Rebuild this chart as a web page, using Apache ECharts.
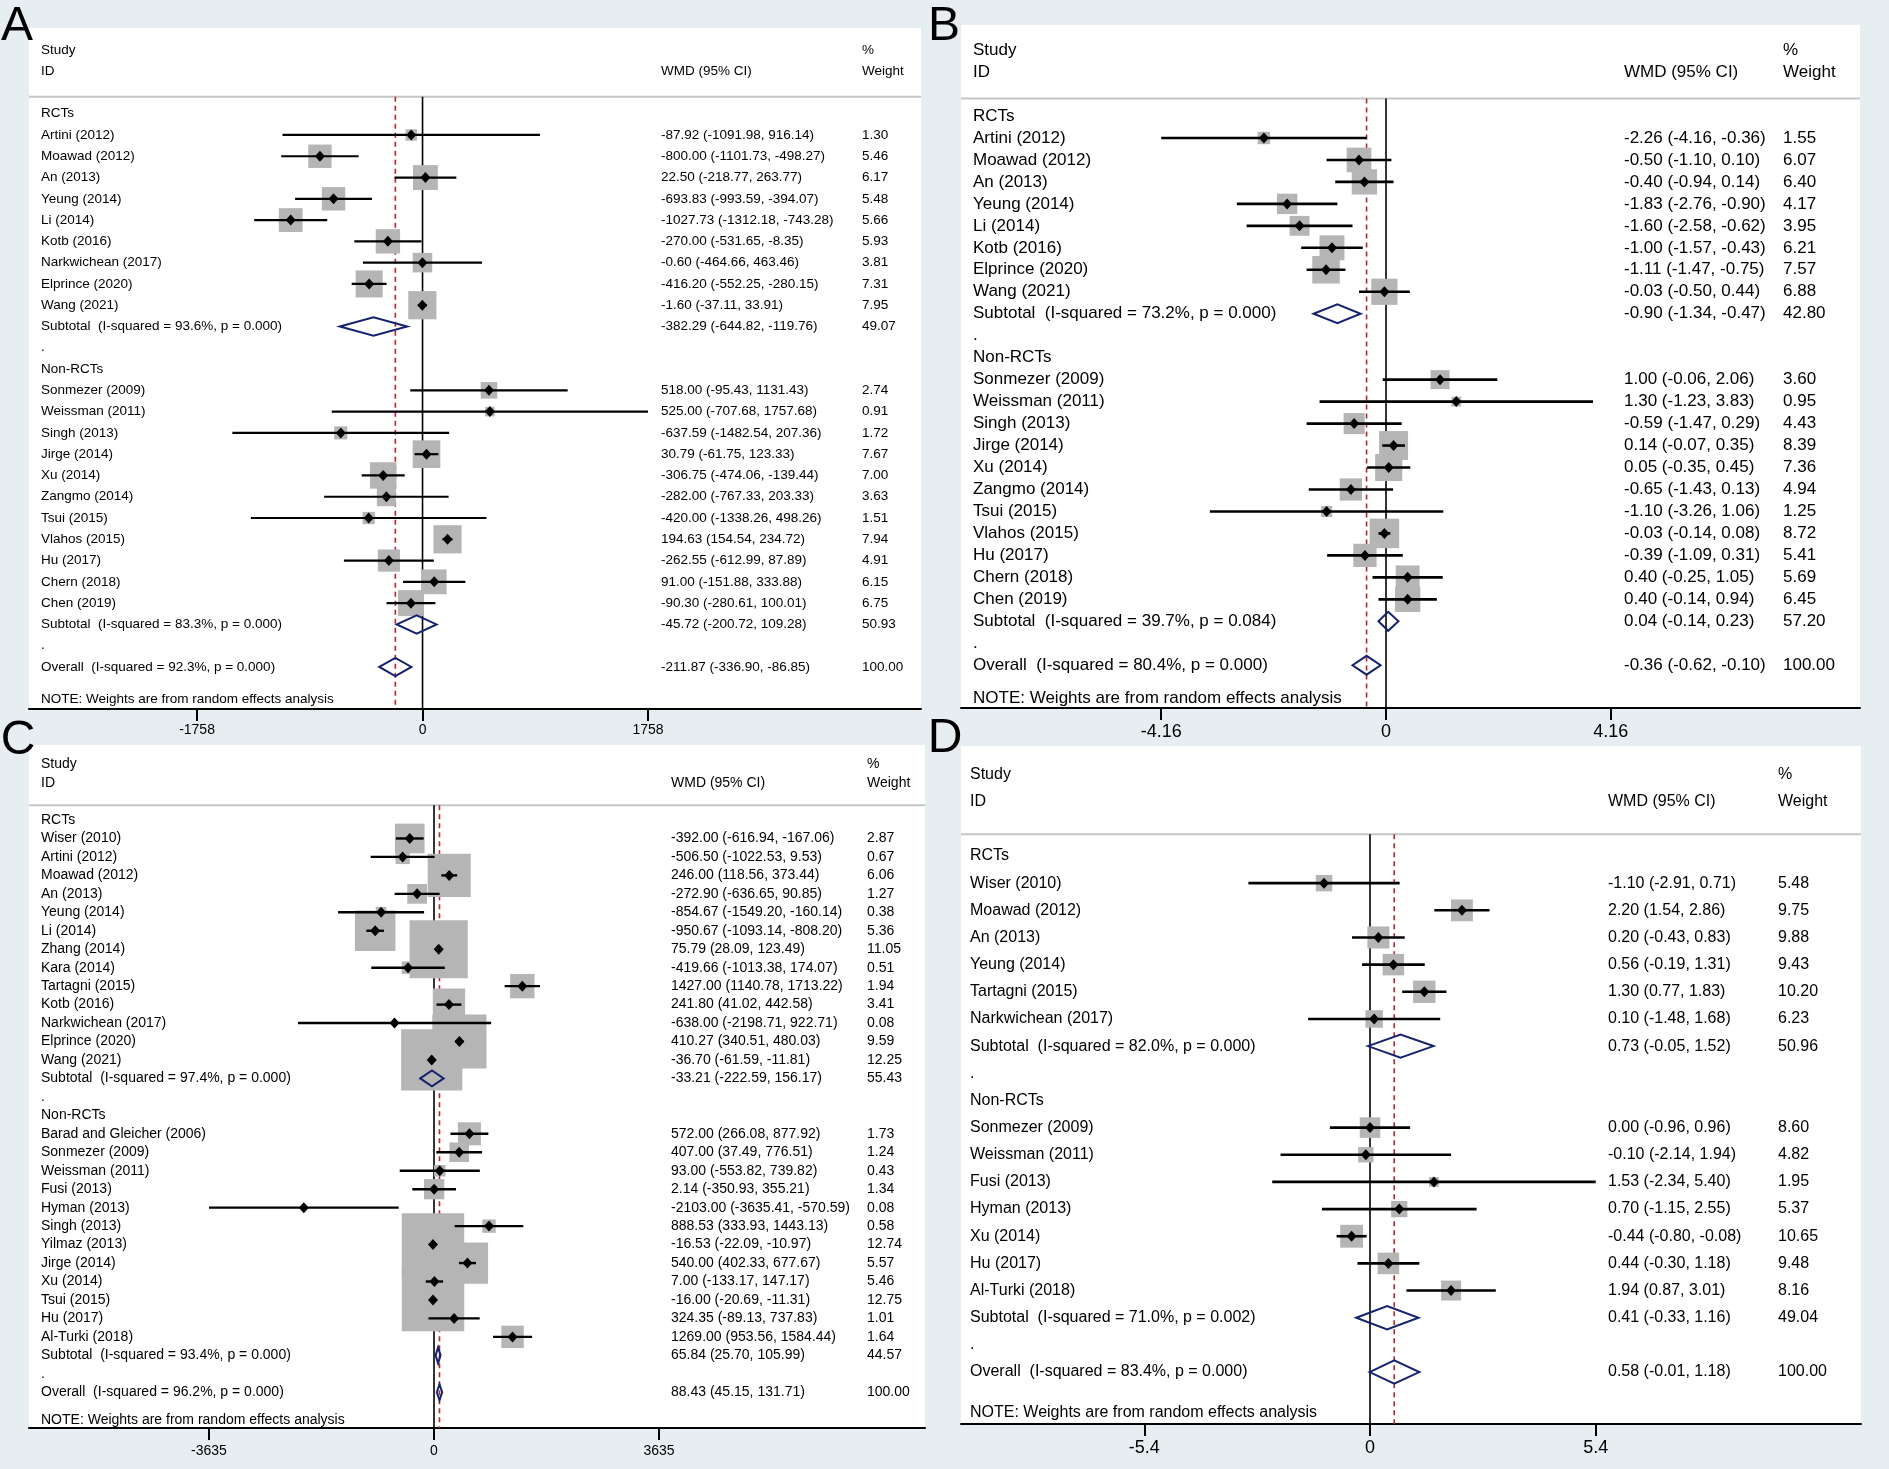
<!doctype html>
<html>
<head>
<meta charset="utf-8">
<title>Forest plots</title>
<script src="https://cdn.jsdelivr.net/npm/echarts@6/dist/echarts.min.js"></script>
<style>
  html, body { margin: 0; padding: 0; background: #e7eef1; }
  #main { width: 1889px; height: 1469px; }
</style>
</head>
<body>
<div id="main"></div>
<script>
// ---------- panel A ----------
var aStudy = ['Artini (2012)', 'Moawad (2012)', 'An (2013)', 'Yeung (2014)', 'Li (2014)', 'Kotb (2016)', 'Narkwichean (2017)', 'Elprince (2020)', 'Wang (2021)',
  'Sonmezer (2009)', 'Weissman (2011)', 'Singh (2013)', 'Jirge (2014)', 'Xu (2014)', 'Zangmo (2014)', 'Tsui (2015)', 'Vlahos (2015)', 'Hu (2017)', 'Chern (2018)', 'Chen (2019)'];
var aWmd = [-87.92, -800.00, 22.50, -693.83, -1027.73, -270.00, -0.60, -416.20, -1.60,
  518.00, 525.00, -637.59, 30.79, -306.75, -282.00, -420.00, 194.63, -262.55, 91.00, -90.30];
var aLow = [-1091.98, -1101.73, -218.77, -993.59, -1312.18, -531.65, -464.66, -552.25, -37.11,
  -95.43, -707.68, -1482.54, -61.75, -474.06, -767.33, -1338.26, 154.54, -612.99, -151.88, -280.61];
var aHigh = [916.14, -498.27, 263.77, -394.07, -743.28, -8.35, 463.46, -280.15, 33.91,
  1131.43, 1757.68, 207.36, 123.33, -139.44, 203.33, 498.26, 234.72, 87.89, 333.88, 100.01];
var aWeight = [1.30, 5.46, 6.17, 5.48, 5.66, 5.93, 3.81, 7.31, 7.95,
  2.74, 0.91, 1.72, 7.67, 7.00, 3.63, 1.51, 7.94, 4.91, 6.15, 6.75];
var aRctCount = 9;
var aPoolLabel = ['Subtotal  (I-squared = 93.6%, p = 0.000)', 'Subtotal  (I-squared = 83.3%, p = 0.000)', 'Overall  (I-squared = 92.3%, p = 0.000)'];
var aPoolWmd = [-382.29, -45.72, -211.87];
var aPoolLow = [-644.82, -200.72, -336.90];
var aPoolHigh = [-119.76, 109.28, -86.85];
var aPoolWeight = [49.07, 50.93, 100.00];
var aTicks = [-1758, 0, 1758];

// ---------- panel B ----------
var bStudy = ['Artini (2012)', 'Moawad (2012)', 'An (2013)', 'Yeung (2014)', 'Li (2014)', 'Kotb (2016)', 'Elprince (2020)', 'Wang (2021)',
  'Sonmezer (2009)', 'Weissman (2011)', 'Singh (2013)', 'Jirge (2014)', 'Xu (2014)', 'Zangmo (2014)', 'Tsui (2015)', 'Vlahos (2015)', 'Hu (2017)', 'Chern (2018)', 'Chen (2019)'];
var bWmd = [-2.26, -0.50, -0.40, -1.83, -1.60, -1.00, -1.11, -0.03,
  1.00, 1.30, -0.59, 0.14, 0.05, -0.65, -1.10, -0.03, -0.39, 0.40, 0.40];
var bLow = [-4.16, -1.10, -0.94, -2.76, -2.58, -1.57, -1.47, -0.50,
  -0.06, -1.23, -1.47, -0.07, -0.35, -1.43, -3.26, -0.14, -1.09, -0.25, -0.14];
var bHigh = [-0.36, 0.10, 0.14, -0.90, -0.62, -0.43, -0.75, 0.44,
  2.06, 3.83, 0.29, 0.35, 0.45, 0.13, 1.06, 0.08, 0.31, 1.05, 0.94];
var bWeight = [1.55, 6.07, 6.40, 4.17, 3.95, 6.21, 7.57, 6.88,
  3.60, 0.95, 4.43, 8.39, 7.36, 4.94, 1.25, 8.72, 5.41, 5.69, 6.45];
var bRctCount = 8;
var bPoolLabel = ['Subtotal  (I-squared = 73.2%, p = 0.000)', 'Subtotal  (I-squared = 39.7%, p = 0.084)', 'Overall  (I-squared = 80.4%, p = 0.000)'];
var bPoolWmd = [-0.90, 0.04, -0.36];
var bPoolLow = [-1.34, -0.14, -0.62];
var bPoolHigh = [-0.47, 0.23, -0.10];
var bPoolWeight = [42.80, 57.20, 100.00];
var bTicks = [-4.16, 0, 4.16];

// ---------- panel C ----------
var cStudy = ['Wiser (2010)', 'Artini (2012)', 'Moawad (2012)', 'An (2013)', 'Yeung (2014)', 'Li (2014)', 'Zhang (2014)', 'Kara (2014)', 'Tartagni (2015)', 'Kotb (2016)', 'Narkwichean (2017)', 'Elprince (2020)', 'Wang (2021)',
  'Barad and Gleicher (2006)', 'Sonmezer (2009)', 'Weissman (2011)', 'Fusi (2013)', 'Hyman (2013)', 'Singh (2013)', 'Yilmaz (2013)', 'Jirge (2014)', 'Xu (2014)', 'Tsui (2015)', 'Hu (2017)', 'Al-Turki (2018)'];
var cWmd = [-392.00, -506.50, 246.00, -272.90, -854.67, -950.67, 75.79, -419.66, 1427.00, 241.80, -638.00, 410.27, -36.70,
  572.00, 407.00, 93.00, 2.14, -2103.00, 888.53, -16.53, 540.00, 7.00, -16.00, 324.35, 1269.00];
var cLow = [-616.94, -1022.53, 118.56, -636.65, -1549.20, -1093.14, 28.09, -1013.38, 1140.78, 41.02, -2198.71, 340.51, -61.59,
  266.08, 37.49, -553.82, -350.93, -3635.41, 333.93, -22.09, 402.33, -133.17, -20.69, -89.13, 953.56];
var cHigh = [-167.06, 9.53, 373.44, 90.85, -160.14, -808.20, 123.49, 174.07, 1713.22, 442.58, 922.71, 480.03, -11.81,
  877.92, 776.51, 739.82, 355.21, -570.59, 1443.13, -10.97, 677.67, 147.17, -11.31, 737.83, 1584.44];
var cWeight = [2.87, 0.67, 6.06, 1.27, 0.38, 5.36, 11.05, 0.51, 1.94, 3.41, 0.08, 9.59, 12.25,
  1.73, 1.24, 0.43, 1.34, 0.08, 0.58, 12.74, 5.57, 5.46, 12.75, 1.01, 1.64];
var cRctCount = 13;
var cPoolLabel = ['Subtotal  (I-squared = 97.4%, p = 0.000)', 'Subtotal  (I-squared = 93.4%, p = 0.000)', 'Overall  (I-squared = 96.2%, p = 0.000)'];
var cPoolWmd = [-33.21, 65.84, 88.43];
var cPoolLow = [-222.59, 25.70, 45.15];
var cPoolHigh = [156.17, 105.99, 131.71];
var cPoolWeight = [55.43, 44.57, 100.00];
var cTicks = [-3635, 0, 3635];

// ---------- panel D ----------
var dStudy = ['Wiser (2010)', 'Moawad (2012)', 'An (2013)', 'Yeung (2014)', 'Tartagni (2015)', 'Narkwichean (2017)',
  'Sonmezer (2009)', 'Weissman (2011)', 'Fusi (2013)', 'Hyman (2013)', 'Xu (2014)', 'Hu (2017)', 'Al-Turki (2018)'];
var dWmd = [-1.10, 2.20, 0.20, 0.56, 1.30, 0.10, 0.00, -0.10, 1.53, 0.70, -0.44, 0.44, 1.94];
var dLow = [-2.91, 1.54, -0.43, -0.19, 0.77, -1.48, -0.96, -2.14, -2.34, -1.15, -0.80, -0.30, 0.87];
var dHigh = [0.71, 2.86, 0.83, 1.31, 1.83, 1.68, 0.96, 1.94, 5.40, 2.55, -0.08, 1.18, 3.01];
var dWeight = [5.48, 9.75, 9.88, 9.43, 10.20, 6.23, 8.60, 4.82, 1.95, 5.37, 10.65, 9.48, 8.16];
var dRctCount = 6;
var dPoolLabel = ['Subtotal  (I-squared = 82.0%, p = 0.000)', 'Subtotal  (I-squared = 71.0%, p = 0.002)', 'Overall  (I-squared = 83.4%, p = 0.000)'];
var dPoolWmd = [0.73, 0.41, 0.58];
var dPoolLow = [-0.05, -0.33, -0.01];
var dPoolHigh = [1.52, 1.16, 1.18];
var dPoolWeight = [50.96, 49.04, 100.00];
var dTicks = [-5.4, 0, 5.4];

var FONT = '"Liberation Sans", Arial, Helvetica, sans-serif';

// layout of each panel (pixels), kept apart from the values
var panels = [
  { tag: 'A', grid: [29, 28, 892, 681], x: [-3068, 3886], y: [-4.027, 27.975], font: 13.5, cols: [12, 632, 833], boxK: 10, ciW: 2.2, tickFont: 14, tickMargin: 14, letter: [17, 27],
    d: { study: aStudy, wmd: aWmd, low: aLow, high: aHigh, weight: aWeight, nRct: aRctCount, poolLabel: aPoolLabel, poolWmd: aPoolWmd, poolLow: aPoolLow, poolHigh: aPoolHigh, poolWeight: aPoolWeight, ticks: aTicks } },
  { tag: 'B', grid: [961, 25, 899, 683], x: [-7.865, 8.771], y: [-4.142, 26.946], font: 17, cols: [12, 663, 822], boxK: 10, ciW: 2.6, tickFont: 18, tickMargin: 15, letter: [944, 27],
    d: { study: bStudy, wmd: bWmd, low: bLow, high: bHigh, weight: bWeight, nRct: bRctCount, poolLabel: bPoolLabel, poolWmd: bPoolWmd, poolLow: bPoolLow, poolHigh: bPoolHigh, poolWeight: bPoolWeight, ticks: bTicks } },
  { tag: 'C', grid: [29, 745, 896, 683], x: [-6543, 7932], y: [-4.063, 32.936], font: 14, cols: [12, 642, 838], boxK: 17.5, ciW: 2.4, tickFont: 14, tickMargin: 16, letter: [18, 741],
    d: { study: cStudy, wmd: cWmd, low: cLow, high: cHigh, weight: cWeight, nRct: cRctCount, poolLabel: cPoolLabel, poolWmd: cPoolWmd, poolLow: cPoolLow, poolHigh: cPoolHigh, poolWeight: cPoolWeight, ticks: cTicks } },
  { tag: 'D', grid: [961, 746, 900, 678], x: [-9.786, 11.748], y: [-4.050, 20.913], font: 16, cols: [9, 647, 817], boxK: 7, ciW: 2.6, tickFont: 18, tickMargin: 15, letter: [945, 739],
    d: { study: dStudy, wmd: dWmd, low: dLow, high: dHigh, weight: dWeight, nRct: dRctCount, poolLabel: dPoolLabel, poolWmd: dPoolWmd, poolLow: dPoolLow, poolHigh: dPoolHigh, poolWeight: dPoolWeight, ticks: dTicks } }
];

function ciText(e, l, h) {
  return e.toFixed(2) + ' (' + l.toFixed(2) + ', ' + h.toFixed(2) + ')';
}

function poolRow(d, k, row) {
  return { kind: 'pool', row: row, label: d.poolLabel[k], est: d.poolWmd[k], lo: d.poolLow[k], hi: d.poolHigh[k], w: d.poolWeight[k] };
}

function buildRows(d) {
  var rows = [];
  var r = 0;
  rows.push({ kind: 'text', row: r++, label: 'RCTs' });
  for (var i = 0; i < d.study.length; i++) {
    if (i === d.nRct) {
      rows.push(poolRow(d, 0, r++));
      rows.push({ kind: 'text', row: r++, label: '.' });
      rows.push({ kind: 'text', row: r++, label: 'Non-RCTs' });
    }
    rows.push({ kind: 'study', row: r++, label: d.study[i], est: d.wmd[i], lo: d.low[i], hi: d.high[i], w: d.weight[i] });
  }
  rows.push(poolRow(d, 1, r++));
  rows.push({ kind: 'text', row: r++, label: '.' });
  rows.push(poolRow(d, 2, r++));
  rows.push({ kind: 'text', row: r + 0.5, label: 'NOTE: Weights are from random effects analysis' });
  return rows;
}

function txt(s, x, y, size) {
  return { type: 'text', x: x, y: y, style: { text: s, fill: '#000', fontSize: size, fontFamily: FONT, align: 'left', verticalAlign: 'middle' } };
}

var option = {
  animation: false,
  backgroundColor: '#e7eef1',
  grid: [], xAxis: [], yAxis: [], series: [],
  graphic: []
};

panels.forEach(function (P, gi) {
  var d = P.d;
  var rows = buildRows(d);
  option.grid.push({ left: P.grid[0], top: P.grid[1], width: P.grid[2], height: P.grid[3], show: true, backgroundColor: '#ffffff', borderWidth: 0 });
  option.xAxis.push({
    gridIndex: gi, type: 'value', min: P.x[0], max: P.x[1],
    axisLine: { onZero: false, lineStyle: { color: '#000', width: 2 } },
    axisTick: { customValues: d.ticks, length: 12, lineStyle: { color: '#000', width: 2 } },
    axisLabel: { customValues: d.ticks, margin: P.tickMargin, fontSize: P.tickFont, fontFamily: FONT, color: '#000', formatter: function (v) { return String(v); } },
    splitLine: { show: false }
  });
  option.yAxis.push({ gridIndex: gi, type: 'value', min: P.y[0], max: P.y[1], inverse: true, show: false });

  // reference lines and column headings
  option.series.push({
    type: 'custom', xAxisIndex: gi, yAxisIndex: gi, z: 1, clip: false,
    data: [[0, 0]], encode: { x: 0, y: 1 },
    renderItem: function (params, api) {
      var cs = params.coordSys;
      var yHead = api.coord([0, -0.8])[1];
      var yBot = cs.y + cs.height;
      var x0 = api.coord([0, 0])[0];
      var xo = api.coord([d.poolWmd[2], 0])[0];
      var yS = api.coord([0, -3])[1];
      var yI = api.coord([0, -2])[1];
      return { type: 'group', children: [
        { type: 'line', shape: { x1: cs.x, y1: yHead, x2: cs.x + cs.width, y2: yHead }, style: { stroke: '#c4c6c8', lineWidth: 2 } },
        { type: 'line', shape: { x1: x0, y1: yHead, x2: x0, y2: yBot }, style: { stroke: '#000', lineWidth: 1.6 } },
        { type: 'line', shape: { x1: xo, y1: yHead, x2: xo, y2: yBot }, style: { stroke: '#b3262d', lineWidth: 1.6, lineDash: [5, 4] } },
        txt('Study', cs.x + P.cols[0], yS, P.font),
        txt('ID', cs.x + P.cols[0], yI, P.font),
        txt('WMD (95% CI)', cs.x + P.cols[1], yI, P.font),
        txt('%', cs.x + P.cols[2], yS, P.font),
        txt('Weight', cs.x + P.cols[2], yI, P.font)
      ] };
    }
  });

  // weight boxes
  option.series.push({
    type: 'custom', xAxisIndex: gi, yAxisIndex: gi, z: 2, clip: false,
    data: rows.map(function (r) { return [r.est || 0, r.row]; }), encode: { x: 0, y: 1 },
    renderItem: function (params, api) {
      var r = rows[params.dataIndex];
      if (r.kind !== 'study') return { type: 'group', children: [] };
      var c = api.coord([r.est, r.row]);
      var s = P.boxK * Math.sqrt(r.w);
      return { type: 'rect', shape: { x: c[0] - s / 2, y: c[1] - s / 2, width: s, height: s }, style: { fill: '#b5b5b5' } };
    }
  });

  // CIs, point estimates, pooled diamonds and text columns
  option.series.push({
    type: 'custom', xAxisIndex: gi, yAxisIndex: gi, z: 3, clip: false,
    data: rows.map(function (r) { return [r.est || 0, r.row]; }), encode: { x: 0, y: 1 },
    renderItem: function (params, api) {
      var r = rows[params.dataIndex];
      var cs = params.coordSys;
      var y = api.coord([0, r.row])[1];
      var rowPx = api.coord([0, 1])[1] - api.coord([0, 0])[1];
      var ch = [txt(r.label, cs.x + P.cols[0], y, P.font)];
      if (r.kind === 'study' || r.kind === 'pool') {
        var xl = api.coord([r.lo, r.row])[0];
        var xh = api.coord([r.hi, r.row])[0];
        var xe = api.coord([r.est, r.row])[0];
        if (r.kind === 'study') {
          ch.push({ type: 'line', shape: { x1: xl, y1: y, x2: xh, y2: y }, style: { stroke: '#000', lineWidth: P.ciW } });
          ch.push({ type: 'polygon', shape: { points: [[xe, y - 5.5], [xe + 5, y], [xe, y + 5.5], [xe - 5, y]] }, style: { fill: '#000' } });
        } else {
          var h = rowPx * 0.43;
          ch.push({ type: 'polygon', shape: { points: [[xl, y], [xe, y - h], [xh, y], [xe, y + h]] }, style: { fill: 'none', stroke: '#15226e', lineWidth: 2 } });
        }
        ch.push(txt(ciText(r.est, r.lo, r.hi), cs.x + P.cols[1], y, P.font));
        ch.push(txt(r.w.toFixed(2), cs.x + P.cols[2], y, P.font));
      }
      return { type: 'group', children: ch };
    }
  });

  option.graphic.push({
    type: 'text', x: P.letter[0], y: P.letter[1], z: 100,
    style: { text: P.tag, fill: '#000', fontSize: 48, fontFamily: FONT, align: 'center', verticalAlign: 'middle' }
  });
});

var chart = echarts.init(document.getElementById('main'));
chart.setOption(option);
</script>
</body>
</html>
